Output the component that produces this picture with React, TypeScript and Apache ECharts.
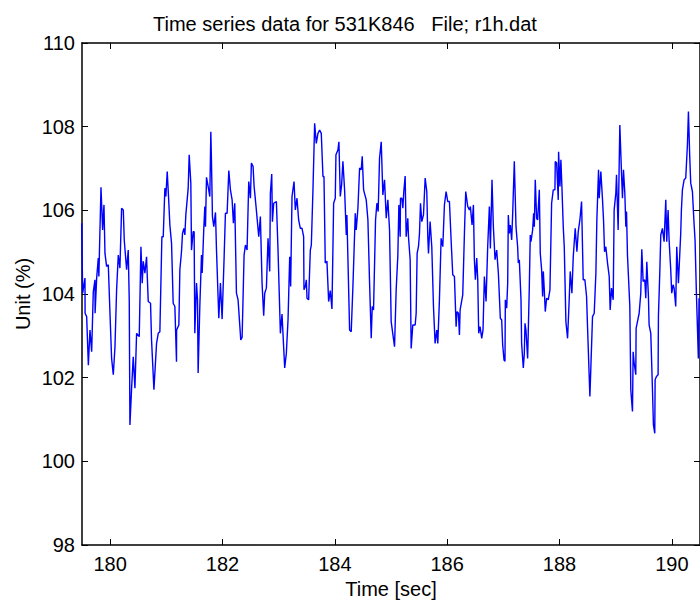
import React, { useEffect, useRef } from "react";
import * as echarts from "echarts";

const titleText = "Time series data for 531K846   File; r1h.dat";
const xName = "Time [sec]";
const yName = "Unit (%)";
const xTicks = [180, 182, 184, 186, 188, 190];
const yTicks = [98, 100, 102, 104, 106, 108, 110];

const times = [
  179.494, 179.512, 179.553, 179.555, 179.583, 179.613, 179.642, 179.672, 179.701, 179.731,
  179.733, 179.761, 179.79, 179.8, 179.838, 179.867, 179.891, 179.909, 179.938, 179.968,
  179.998, 180.027, 180.057, 180.087, 180.116, 180.146, 180.175, 180.205, 180.235, 180.252,
  180.294, 180.323, 180.341, 180.353, 180.383, 180.412, 180.442, 180.472, 180.519, 180.549,
  180.572, 180.59, 180.62, 180.649, 180.679, 180.72, 180.738, 180.78, 180.827, 180.857,
  180.886, 180.922, 180.946, 180.975, 180.993, 181.017, 181.04, 181.064, 181.094, 181.123,
  181.153, 181.182, 181.184, 181.224, 181.242, 181.271, 181.289, 181.313, 181.331, 181.348,
  181.39, 181.408,
  181.437, 181.449, 181.479, 181.496, 181.508, 181.538, 181.556, 181.567, 181.597, 181.627,
  181.639, 181.668, 181.686, 181.698, 181.716, 181.745, 181.775, 181.793, 181.804, 181.822,
  181.846, 181.876, 181.893, 181.935, 181.964, 181.994, 182.03, 182.053, 182.083, 182.113,
  182.142, 182.172, 182.195, 182.219, 182.249, 182.278, 182.326, 182.35, 182.385, 182.409,
  182.438, 182.468, 182.498, 182.515, 182.545, 182.563, 182.598, 182.646, 182.675, 182.705,
  182.734, 182.752, 182.782, 182.811, 182.841, 182.853, 182.877, 182.889, 182.912, 182.96,
  182.989, 183.031, 183.06, 183.108, 183.137, 183.167, 183.197, 183.214, 183.238, 183.274,
  183.297, 183.327, 183.356, 183.386, 183.416, 183.445, 183.451, 183.475, 183.493, 183.505,
  183.534, 183.564, 183.582, 183.611, 183.641, 183.67, 183.7, 183.73, 183.759, 183.789,
  183.807, 183.83, 183.86, 183.89, 183.919, 183.949, 183.979, 184.008, 184.02, 184.055,
  184.073, 184.097, 184.121, 184.144, 184.174, 184.204, 184.215, 184.263, 184.292, 184.322,
  184.364, 184.381, 184.411, 184.441, 184.47, 184.488, 184.512, 184.559, 184.589, 184.618,
  184.648, 184.666, 184.689, 184.725, 184.749, 184.772, 184.796, 184.826, 184.855, 184.885,
  184.915, 184.944, 184.974, 185.003, 185.063, 185.092, 185.122, 185.14,
  185.163, 185.169, 185.193, 185.211, 185.228, 185.252, 185.27, 185.299, 185.311, 185.341,
  185.359, 185.388, 185.43, 185.448, 185.465, 185.489, 185.507, 185.525, 185.548, 185.578,
  185.608, 185.637, 185.655, 185.667, 185.696, 185.726, 185.756, 185.785, 185.815, 185.833,
  185.862, 185.892, 185.922, 185.951, 185.981, 186.01, 186.04, 186.07, 186.099, 186.129,
  186.159, 186.176, 186.2, 186.218, 186.23, 186.277, 186.307, 186.33, 186.366, 186.395,
  186.413, 186.443, 186.467, 186.484, 186.502, 186.526, 186.544, 186.561, 186.585, 186.615,
  186.638, 186.662, 186.692, 186.721, 186.751, 186.769, 186.798, 186.822, 186.852, 186.881,
  186.911, 186.946, 186.97, 186.988, 187.012,
  187.029, 187.035, 187.059, 187.077, 187.088, 187.106, 187.124, 187.148, 187.165, 187.195,
  187.225, 187.254, 187.266, 187.284, 187.314, 187.325, 187.355, 187.373, 187.385, 187.402,
  187.432, 187.462, 187.479, 187.491, 187.521, 187.539, 187.551, 187.568, 187.592, 187.61,
  187.64, 187.657, 187.681, 187.699, 187.711, 187.728, 187.746, 187.77, 187.799, 187.829,
  187.859, 187.888, 187.918, 187.924, 187.948, 187.977, 187.983, 188.007, 188.024, 188.042,
  188.066, 188.084, 188.113, 188.143, 188.173, 188.19, 188.22, 188.244, 188.279, 188.309,
  188.333, 188.362, 188.392, 188.421, 188.451, 188.481, 188.498, 188.528, 188.54, 188.558,
  188.587, 188.617, 188.647, 188.664, 188.694, 188.706, 188.735, 188.765, 188.783, 188.801,
  188.824, 188.854, 188.884,
  188.901, 188.925, 188.955, 188.972, 189.002, 189.014, 189.043, 189.073, 189.103, 189.12,
  189.138, 189.162, 189.18, 189.192, 189.209, 189.251, 189.268, 189.298, 189.31, 189.328,
  189.357, 189.363, 189.387, 189.417, 189.446, 189.464, 189.488, 189.517, 189.535, 189.553,
  189.582, 189.594, 189.624, 189.654, 189.671, 189.695, 189.701, 189.725, 189.754, 189.76,
  189.784, 189.802, 189.831, 189.861, 189.891, 189.908, 189.932, 189.95, 189.979, 189.997,
  190.021, 190.039, 190.068, 190.086, 190.116, 190.157, 190.169, 190.187, 190.217, 190.246,
  190.276, 190.294, 190.317, 190.335, 190.365, 190.394, 190.412, 190.436, 190.471, 190.483,
];

const values = [
  105.69, 104.02, 104.38, 103.54, 103.46, 102.3, 103.14, 102.62, 104.06, 104.34,
  103.54, 104.38, 104.86, 104.42, 106.55, 105.53, 106.13, 104.97, 104.66, 104.7,
  103.54, 102.46, 102.07, 102.74, 104.1, 104.93, 104.62, 106.05, 106.01, 105.29,
  104.58, 105.05, 103.86, 100.87, 101.75, 102.5, 101.75, 103.06, 102.98, 105.13,
  104.26, 104.78, 104.5, 104.89, 103.82, 103.78, 102.9, 101.71, 102.82, 103.06,
  103.1, 105.37, 105.37, 106.53, 106.33, 106.93, 106.33, 105.65, 105.21, 103.78,
  103.7, 102.38, 103.14, 103.26, 104.58, 105.01, 105.45, 105.57, 105.41, 105.89,
  106.53, 107.33,
  106.65, 105.05, 105.49, 105.49, 103.06, 104.26, 103.86, 102.11, 103.7, 104.93,
  104.5, 105.57, 106.09, 105.61, 106.79, 106.57, 106.33, 107.88, 107.21, 105.85,
  105.61, 105.95, 105.09, 103.42, 104.26, 103.4, 104.89, 105.93, 105.93, 106.95,
  106.49, 106.25, 105.69, 106.17, 104.02, 103.86, 102.9, 102.97, 104.93, 105.17,
  105.05, 106.69, 106.29, 107.13, 107.05, 106.58, 106.09, 105.37, 105.85, 104.26,
  103.48, 104.02, 104.14, 105.33, 104.54, 106.41, 106.87, 105.73, 106.17, 106.21,
  105.05, 103.06, 103.52, 102.23, 102.58, 103.38, 104.89, 104.18, 106.33, 106.69,
  106.01, 106.29, 105.77, 105.57, 105.57, 105.37, 104.1, 104.18, 104.34, 103.9,
  103.86, 105.05, 105.17, 106.49, 108.08, 107.6, 107.84, 107.92, 107.84, 106.81,
  106.81, 104.74, 104.78, 103.82, 104.08, 103.64, 106.17, 106.29, 107.33, 107.44,
  107.64, 106.33, 106.61, 107.17, 106.49, 105.41, 105.89, 103.14, 103.1, 104.18,
  105.93, 105.53, 106.05, 107.01, 106.97, 107.29, 106.49, 106.25, 105.77, 104.3,
  102.94, 103.7, 103.62, 105.77, 106.17, 105.97, 107.25, 107.64, 106.37, 106.73,
  105.81, 106.25, 105.53, 103.34, 102.74, 104.1, 104.93, 106.13,
  105.37, 106.29, 106.29, 106.05, 106.45, 106.82, 105.37, 105.81, 105.37, 104.82,
  102.7, 103.26, 103.26, 103.54, 104.97, 105.13, 105.45, 106.17, 105.73, 105.89,
  106.77, 106.45, 105.37, 104.97, 105.73, 105.13, 103.7, 102.82, 103.14, 102.82,
  103.86, 105.33, 105.13, 106.13, 106.45, 106.21, 106.21, 105.29, 104.46, 104.42,
  103.22, 103.58, 103.54, 103.02, 103.62, 103.98, 105.45, 106.45, 106.09, 106.01,
  106.09, 105.65, 106.13, 104.82, 104.34, 104.86, 104.34, 103.06, 103.22, 102.94,
  103.14, 104.42, 103.82, 105.13, 106.09, 105.09, 106.73, 105.61, 104.82, 105.05,
  104.5, 103.42, 103.38, 102.78, 102.42,
  102.39, 103.86, 103.66, 104.26, 105.89, 105.45, 105.65, 105.29, 105.89, 107.17,
  105.61, 105.13, 104.74, 104.82, 103.86, 102.82, 102.23, 102.58, 103.3, 103.14,
  102.46, 104.18, 105.41, 105.25, 105.53, 105.93, 105.61, 106.73, 105.81, 105.77,
  106.49, 104.97, 104.58, 103.94, 104.54, 104.1, 103.58, 103.9, 103.86, 104.1,
  106.17, 106.49, 106.49, 107.17, 107.13, 106.25, 107.4, 106.57, 107.21, 106.57,
  105.61, 105.13, 103.34, 102.94, 103.9, 104.54, 104.02, 104.89, 105.57, 105.01,
  105.49, 105.77, 106.21, 104.34, 104.34, 103.94, 103.22, 102.03, 101.55, 102.27,
  103.46, 103.54, 104.5, 105.77, 106.97, 106.29, 106.93, 106.25, 105.77, 105.01,
  105.13, 104.74, 104.42,
  103.62, 104.14, 103.86, 106.01, 106.41, 106.85, 105.53, 108.04, 106.89, 106.29,
  106.97, 106.41, 105.61, 105.97, 104.93, 103.7, 101.71, 101.19, 102.62, 102.35,
  102.07, 103.18, 103.34, 103.54, 104.02, 105.07, 104.3, 104.34, 103.9, 104.77,
  103.94, 103.26, 103.06, 101.71, 100.87, 100.67, 101.95, 102.03, 102.07, 103.46,
  104.5, 105.41, 105.57, 105.25, 106.25, 105.25, 106.01, 105.29, 104.58, 104.02,
  104.22, 104.14, 103.7, 105.13, 104.26, 105.45, 106.01, 106.49, 106.73, 106.77,
  107.56, 108.36, 107.29, 106.65, 106.45, 105.69, 105.29, 104.02, 102.46, 103.9,
];

const FONT = "'Liberation Sans', Arial, Helvetica, sans-serif";

export default function App() {
  const ref = useRef<HTMLDivElement>(null);
  useEffect(() => {
    document.body.style.margin = "0";
    const chart = echarts.init(ref.current!, null, { renderer: "svg" });
    const data = times.map((t, i) => [t, values[i]]);
    const tickCommon = { show: true, inside: true, length: 6, lineStyle: { color: "#000", width: 1 } };
    const lineCommon = { show: true, onZero: false, lineStyle: { color: "#000", width: 1.5 } };
    chart.setOption({
      animation: false,
      backgroundColor: "#fff",
      textStyle: { fontFamily: FONT },
      title: {
        text: titleText,
        left: 148,
        top: 9,
        textStyle: { fontSize: 20, fontWeight: "normal", color: "#000", fontFamily: FONT },
      },
      grid: { left: 82, top: 43, width: 619, height: 502, show: false },
      xAxis: [
        {
          type: "value",
          min: 179.5,
          max: 190.5,
          position: "bottom",
          axisLine: lineCommon,
          axisTick: { ...tickCommon, customValues: xTicks },
          axisLabel: { customValues: xTicks, fontSize: 20, color: "#000", margin: 9, fontFamily: FONT },
          splitLine: { show: false },
          name: xName,
          nameLocation: "middle",
          nameGap: 34,
          nameTextStyle: { fontSize: 20, color: "#000", fontFamily: FONT },
        },
        {
          type: "value",
          min: 179.5,
          max: 190.5,
          position: "top",
          axisLine: lineCommon,
          axisTick: { ...tickCommon, customValues: xTicks },
          axisLabel: { show: false },
          splitLine: { show: false },
        },
      ],
      yAxis: [
        {
          type: "value",
          min: 98,
          max: 110,
          interval: 2,
          position: "left",
          axisLine: lineCommon,
          axisTick: { ...tickCommon, customValues: yTicks },
          axisLabel: { customValues: yTicks, fontSize: 20, color: "#000", margin: 7, fontFamily: FONT },
          splitLine: { show: false },
          name: yName,
          nameLocation: "middle",
          nameGap: 49,
          nameMoveOverlap: false,
          nameRotate: 90,
          nameTextStyle: { fontSize: 20, color: "#000", fontFamily: FONT },
        },
        {
          type: "value",
          min: 98,
          max: 110,
          interval: 2,
          position: "right",
          axisLine: lineCommon,
          axisTick: { ...tickCommon, customValues: yTicks },
          axisLabel: { show: false },
          splitLine: { show: false },
        },
      ],
      series: [
        {
          type: "line",
          data,
          xAxisIndex: 0,
          yAxisIndex: 0,
          showSymbol: false,
          symbol: "none",
          lineStyle: { color: "#0000ff", width: 1.4 },
          silent: true,
        },
      ],
    });
    return () => chart.dispose();
  }, []);
  return <div ref={ref} style={{ width: 700, height: 606 }} />;
}
